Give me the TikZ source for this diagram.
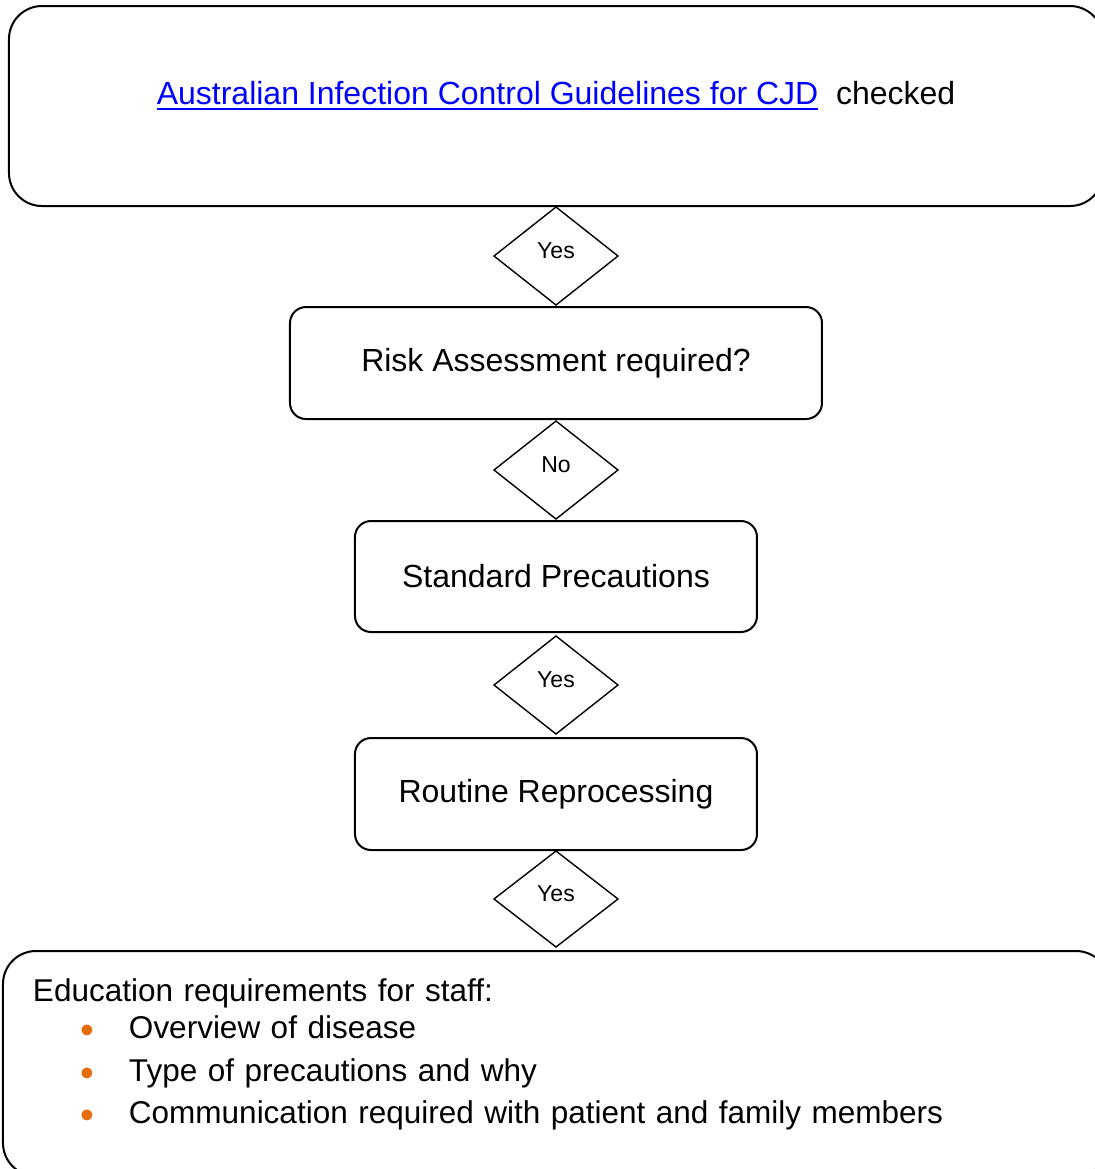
\documentclass[tikz,border=0pt]{standalone}
\usepackage{fontspec}
\setmainfont{Liberation Sans}
\usepackage{xcolor}
\usepackage{tikz}
\usetikzlibrary{matrix,shapes.geometric}

\definecolor{linkblue}{RGB}{0,0,255}
\definecolor{dotorange}{RGB}{228,108,10}
\newcommand{\linkline}[1]{\setbox0\hbox{#1}\rlap{\rule[-3.2pt]{\wd0}{1.4pt}}\box0}
\newcommand{\dotitem}{\makebox[48pt][l]{\hspace{24pt}\textcolor{dotorange}{\raisebox{-2.8pt}{\scalebox{1.25}{\textbullet}}}}}

\begin{document}
\begin{tikzpicture}[x=0.5pt,y=-0.5pt,
    box/.style={draw,line width=1pt,rounded corners=8pt,inner sep=0pt,outer sep=0pt,
                font=\fontsize{16}{18.5}\selectfont},
    bigbox/.style={box,rounded corners=16.5pt},
    choice/.style={draw,diamond,line width=0.7pt,inner sep=0pt,outer sep=0pt,
                   minimum width=62pt,minimum height=49pt,
                   text height=8pt,text depth=5.6pt,font=\fontsize{11.5}{13}\selectfont}]
\useasboundingbox (0,0) rectangle (1095,1169);
\matrix (flow) [%
    matrix of nodes,
    row sep=-0.35pt,
    inner sep=0pt,
    outer sep=0pt,
    anchor=north,
    ] at (556,5)
{ |[bigbox,minimum width=547pt,minimum height=100pt,text height=49pt,text depth=51pt]| {\textcolor{linkblue}{\linkline{Australian Infection Control Guidelines for CJD}}\hspace{0.55em}checked}\\
  |[choice]| Yes\\[0.5pt]
  |[box,minimum width=266pt,minimum height=56pt]| Risk Assessment required?\\[0.5pt]
  |[choice]| No\\[0.5pt]
  |[box,minimum width=201pt,minimum height=55.5pt]| Standard Precautions\\[1.5pt]
  |[choice]| Yes\\[1.5pt]
  |[box,minimum width=201pt,minimum height=56pt]| Routine Reprocessing\\
  |[choice,minimum height=48pt]| Yes\\[1.5pt]
  |[bigbox,minimum width=553pt,minimum height=112.5pt,inner xsep=15pt,text width=523pt,align=left,text height=25pt,text depth=87.5pt,font=\fontsize{15.75}{18.5}\selectfont]| {Education requirements for staff:\\
     \dotitem Overview of disease\\[3pt]
     \dotitem Type of precautions and why\\[2.5pt]
     \dotitem Communication required with patient and family members}\\
};
\end{tikzpicture}
\end{document}
